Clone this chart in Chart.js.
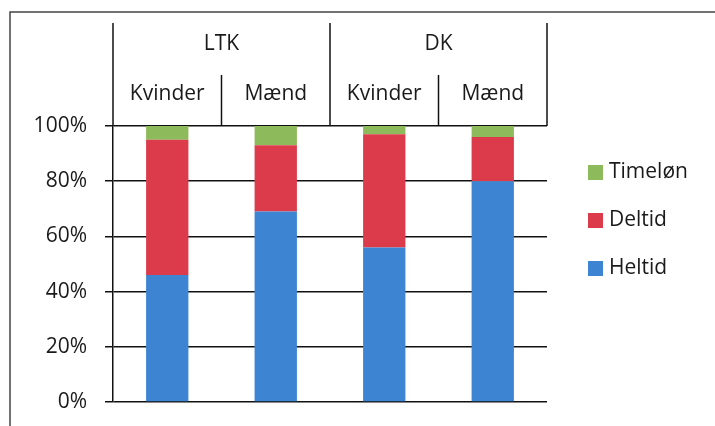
<!DOCTYPE html>
<html>
<head>
<meta charset="utf-8">
<script src="https://cdn.jsdelivr.net/npm/chart.js@4"></script>
<style>
  html, body { margin: 0; padding: 0; background: #fff; }
  #wrap { width: 715px; height: 426px; }
</style>
</head>
<body>
<div id="wrap"><canvas id="chart" width="715" height="426"></canvas></div>
<script>
// Data
const groups = ["LTK", "DK"];
const categories = ["Kvinder", "Mænd", "Kvinder", "Mænd"];
const heltid = [46, 69, 56, 80];
const deltid = [49, 24, 41, 16];
const timelon = [5, 7, 3, 4];
const yTicks = [0, 20, 40, 60, 80, 100];

const FONT = "'Open Sans', Lato, sans-serif";
const colors = { heltid: "#3d84d2", deltid: "#dc3b4b", timelon: "#8dba5a" };

// Frame around the whole picture (left and top edges visible)
const framePlugin = {
    id: "frame",
    beforeDraw(chart) {
        const ctx = chart.ctx;
        ctx.save();
        ctx.fillStyle = "#fff";
        ctx.fillRect(0, 0, chart.width, chart.height);
        ctx.strokeStyle = "#444";
        ctx.lineWidth = 1.5;
        ctx.beginPath();
        ctx.moveTo(10, chart.height);
        ctx.lineTo(10, 12);
        ctx.lineTo(chart.width, 12);
        ctx.stroke();
        ctx.restore();
    }
};

// Two-level category header above the plot
const headerPlugin = {
    id: "header",
    afterDraw(chart) {
        const ctx = chart.ctx;
        const x = chart.scales.x;
        const top = chart.chartArea.top;
        const half = (x.getPixelForValue(1) - x.getPixelForValue(0)) / 2;
        ctx.save();
        ctx.strokeStyle = "#111";
        ctx.lineWidth = 1.5;
        ctx.fillStyle = "#1a1a1a";
        ctx.font = "21px " + FONT;
        ctx.textAlign = "center";
        ctx.textBaseline = "alphabetic";

        // group lines and labels
        const perGroup = categories.length / groups.length;
        for (let g = 0; g <= groups.length; g++) {
            const px = x.getPixelForValue(g * perGroup) - half;
            ctx.beginPath();
            ctx.moveTo(px, 23);
            ctx.lineTo(px, top);
            ctx.stroke();
        }
        groups.forEach((name, g) => {
            const a = x.getPixelForValue(g * perGroup) - half;
            const b = x.getPixelForValue((g + 1) * perGroup - 1) + half;
            ctx.fillText(name, (a + b) / 2, 50);
        });

        // sub-category lines and labels
        categories.forEach((name, i) => {
            const cx = x.getPixelForValue(i);
            if (i % perGroup !== 0) {
                ctx.beginPath();
                ctx.moveTo(cx - half, 75);
                ctx.lineTo(cx - half, top);
                ctx.stroke();
            }
            ctx.fillText(name, cx, 100);
        });
        ctx.restore();
    }
};

// Legend on the right, top entry = last dataset
const legendPlugin = {
    id: "sideLegend",
    afterDraw(chart) {
        const ctx = chart.ctx;
        const sets = chart.data.datasets.slice().reverse();
        ctx.save();
        ctx.font = "21px " + FONT;
        ctx.textBaseline = "middle";
        ctx.textAlign = "left";
        sets.forEach((ds, i) => {
            const y = 172 + i * 48;
            ctx.fillStyle = ds.backgroundColor;
            ctx.fillRect(588, y - 7, 15, 15);
            ctx.fillStyle = "#1a1a1a";
            ctx.fillText(ds.label, 609, y);
        });
        ctx.restore();
    }
};

const ctx = document.getElementById("chart").getContext("2d");
new Chart(ctx, {
    type: "bar",
    data: {
        labels: categories,
        datasets: [
            { label: "Heltid", data: heltid, backgroundColor: colors.heltid },
            { label: "Deltid", data: deltid, backgroundColor: colors.deltid },
            { label: "Timeløn", data: timelon, backgroundColor: colors.timelon }
        ]
    },
    options: {
        responsive: false,
        animation: false,
        layout: { padding: { top: 126, bottom: 24, right: 168, left: 0 } },
        datasets: { bar: { categoryPercentage: 1, barPercentage: 0.39 } },
        plugins: { legend: { display: false }, tooltip: { enabled: false } },
        scales: {
            x: {
                stacked: true,
                display: false
            },
            y: {
                stacked: true,
                min: 0,
                max: 100,
                afterFit(scale) {
                    scale.width = 113;
                    scale.paddingTop = 0;
                    scale.paddingBottom = 0;
                },
                afterBuildTicks(scale) { scale.ticks = yTicks.map(v => ({ value: v })); },
                border: { display: true, color: "#111", width: 1.5 },
                grid: { color: "#111", lineWidth: 1.5, tickLength: 8, drawTicks: true },
                ticks: {
                    padding: 18,
                    color: "#1a1a1a",
                    font: { family: FONT, size: 21, lineHeight: 1 },
                    callback: v => v + "%"
                }
            }
        }
    },
    plugins: [framePlugin, headerPlugin, legendPlugin]
});
</script>
</body>
</html>
